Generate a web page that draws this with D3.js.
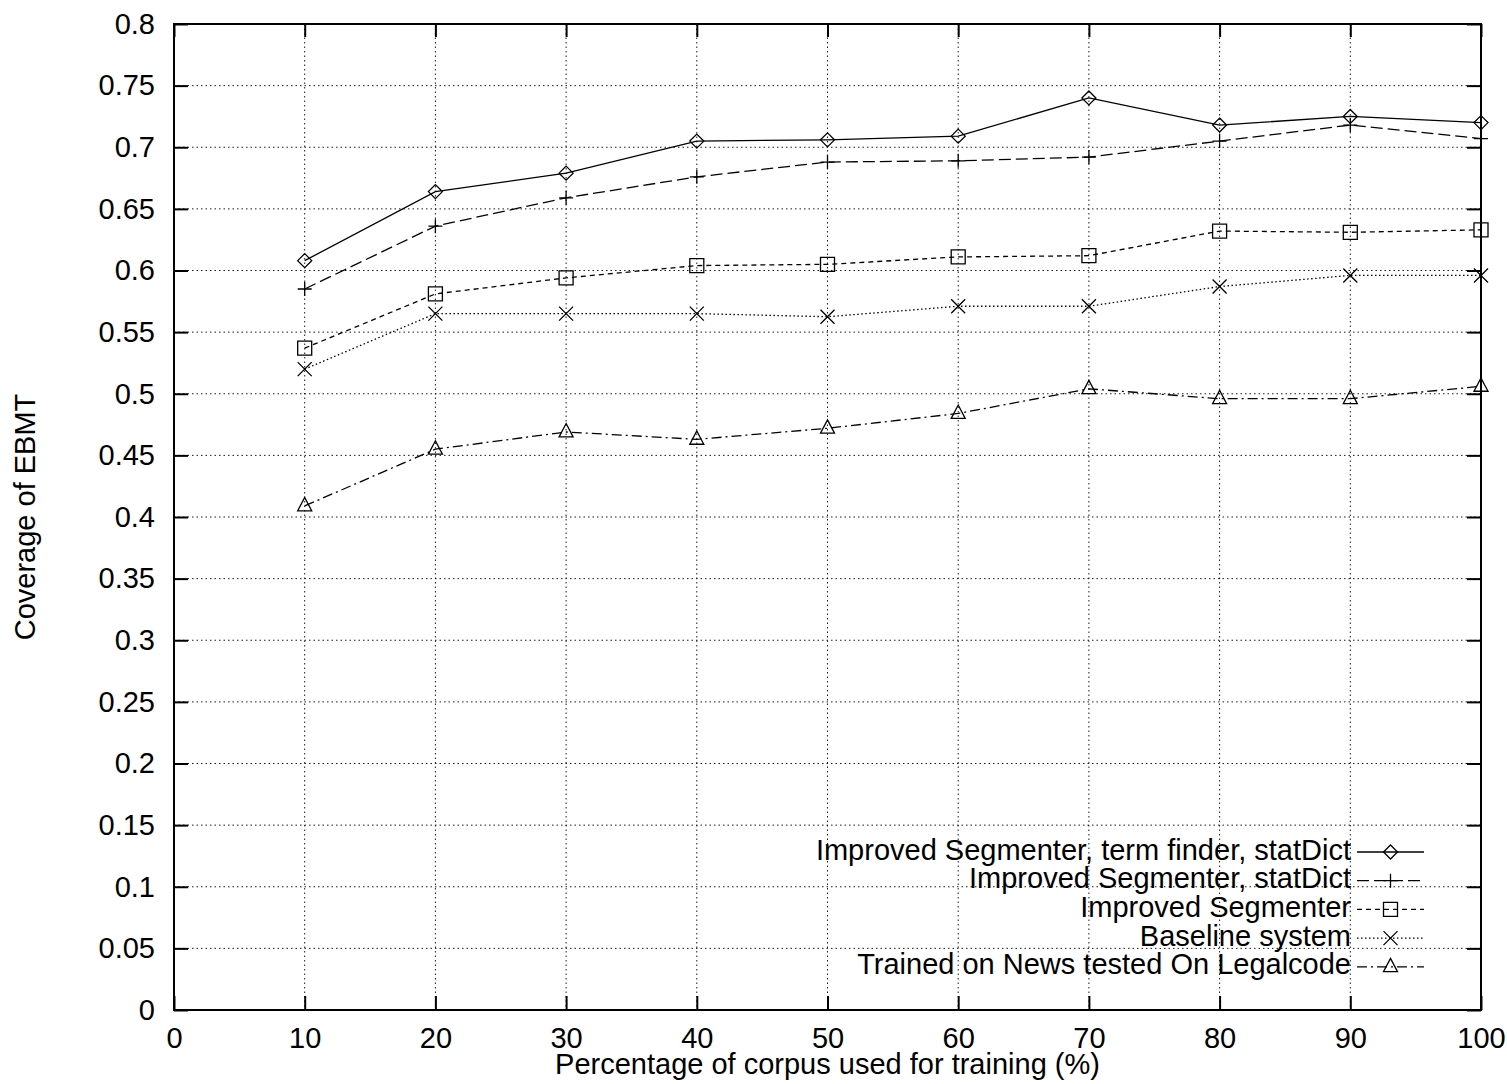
<!DOCTYPE html>
<html>
<head>
<meta charset="utf-8">
<script src="https://cdn.jsdelivr.net/npm/d3@7"></script>
<style>
  body { margin: 0; background: #fff; }
  svg text { font-family: "Liberation Sans", Arial, Helvetica, sans-serif; font-size: 29px; fill: #000; }
</style>
</head>
<body>
<div id="chart"></div>
<script>
// training corpus share (%)
var xValues = [10, 20, 30, 40, 50, 60, 70, 80, 90, 100];

var termFinder = [0.608, 0.664, 0.679, 0.705, 0.706, 0.709, 0.740, 0.718, 0.725, 0.720];
var statDict   = [0.585, 0.636, 0.659, 0.676, 0.688, 0.689, 0.692, 0.705, 0.718, 0.707];
var improved   = [0.537, 0.581, 0.594, 0.604, 0.605, 0.611, 0.612, 0.632, 0.631, 0.633];
var baseline   = [0.520, 0.565, 0.565, 0.565, 0.5625, 0.571, 0.571, 0.587, 0.596, 0.596];
var legalcode  = [0.409, 0.455, 0.469, 0.463, 0.472, 0.484, 0.504, 0.496, 0.496, 0.506];

var seriesNames = [
    "Improved Segmenter, term finder, statDict",
    "Improved Segmenter, statDict",
    "Improved Segmenter",
    "Baseline system",
    "Trained on News tested On Legalcode"
];

var xTicks = [0, 10, 20, 30, 40, 50, 60, 70, 80, 90, 100];
var yTicks = [0, 0.05, 0.1, 0.15, 0.2, 0.25, 0.3, 0.35, 0.4, 0.45, 0.5, 0.55, 0.6, 0.65, 0.7, 0.75, 0.8];

var xTitle = "Percentage of corpus used for training (%)";
var yTitle = "Coverage of EBMT";

var margin = {t:24, l:174, b:74, r:26},
    W = 1507, H = 1084,
    width = W - margin.l - margin.r,
    height = H - margin.t - margin.b;

var svg = d3.select("#chart").append("svg")
    .attr("width", W)
    .attr("height", H);

var x = d3.scaleLinear().domain([0, 100]).range([0, width]);
var y = d3.scaleLinear().domain([0, 0.8]).range([height, 0]);

var g = svg.append("g")
    .attr("transform", "translate(" + margin.l + "," + margin.t + ")");

// grid
var grid = g.append("g").attr("class", "grid")
    .attr("stroke", "#000").attr("stroke-width", 0.9).attr("stroke-dasharray", "1.5,3");
grid.selectAll(".gx").data(xTicks.slice(1, -1)).enter().append("line")
    .attr("x1", function(d){ return x(d); }).attr("x2", function(d){ return x(d); })
    .attr("y1", 0).attr("y2", height);
grid.selectAll(".gy").data(yTicks.slice(1, -1)).enter().append("line")
    .attr("y1", function(d){ return y(d); }).attr("y2", function(d){ return y(d); })
    .attr("x1", 0).attr("x2", width);

// axes with inward ticks, mirrored
function styleAxis(sel) {
    sel.select(".domain").remove();
    sel.selectAll(".tick line").attr("stroke", "#000").attr("stroke-width", 2);
    sel.selectAll("text").attr("fill", "#000").style("font-size", "29px");
}

g.append("g")
    .attr("transform", "translate(0," + height + ")")
    .call(d3.axisBottom(x).tickValues(xTicks).tickSize(-14).tickPadding(17))
    .call(styleAxis);
g.append("g")
    .call(d3.axisTop(x).tickValues(xTicks).tickSize(-13).tickFormat(""))
    .call(styleAxis);
g.append("g")
    .call(d3.axisLeft(y).tickValues(yTicks).tickSize(-14).tickPadding(19).tickFormat(d3.format("~g")))
    .call(styleAxis);
g.append("g")
    .attr("transform", "translate(" + width + ",0)")
    .call(d3.axisRight(y).tickValues(yTicks).tickSize(-14).tickFormat(""))
    .call(styleAxis);

g.append("rect")
    .attr("width", width).attr("height", height)
    .attr("fill", "none").attr("stroke", "#000").attr("stroke-width", 2);

// titles
svg.append("text")
    .attr("x", margin.l + width / 2).attr("y", 1074)
    .attr("text-anchor", "middle")
    .text(xTitle);
svg.append("text")
    .attr("transform", "translate(35," + (margin.t + height / 2) + ") rotate(-90)")
    .attr("text-anchor", "middle")
    .text(yTitle);

// marker shapes (open, gnuplot style)
var s = 7;
var markers = {
    diamond: function(cx, cy){ return "M"+cx+","+(cy-s)+"L"+(cx+s)+","+cy+"L"+cx+","+(cy+s)+"L"+(cx-s)+","+cy+"Z"; },
    plus: function(cx, cy){ return "M"+(cx-s)+","+cy+"H"+(cx+s)+"M"+cx+","+(cy-s)+"V"+(cy+s); },
    square: function(cx, cy){ return "M"+(cx-s)+","+(cy-s)+"H"+(cx+s)+"V"+(cy+s)+"H"+(cx-s)+"Z"; },
    cross: function(cx, cy){ return "M"+(cx-s)+","+(cy-s)+"L"+(cx+s)+","+(cy+s)+"M"+(cx+s)+","+(cy-s)+"L"+(cx-s)+","+(cy+s); },
    triangle: function(cx, cy){ return "M"+cx+","+(cy-s*1.2)+"L"+(cx+s)+","+(cy+s*0.7)+"L"+(cx-s)+","+(cy+s*0.7)+"Z"; }
};

var series = [
    {name: seriesNames[0], values: termFinder, marker: "diamond",  dash: null},
    {name: seriesNames[1], values: statDict,   marker: "plus",     dash: "12,5"},
    {name: seriesNames[2], values: improved,   marker: "square",   dash: "5,4"},
    {name: seriesNames[3], values: baseline,   marker: "cross",    dash: "1.5,2.5"},
    {name: seriesNames[4], values: legalcode,  marker: "triangle", dash: "10,4,2,4"}
];

var line = d3.line()
    .x(function(d){ return x(d[0]); })
    .y(function(d){ return y(d[1]); });

series.forEach(function(sr) {
    var pts = xValues.map(function(v, i){ return [v, sr.values[i]]; });
    g.append("path")
        .attr("d", line(pts))
        .attr("fill", "none")
        .attr("stroke", "#000")
        .attr("stroke-width", 1.3)
        .attr("stroke-dasharray", sr.dash);
    g.selectAll(null).data(pts).enter().append("path")
        .attr("d", function(d){ return markers[sr.marker](x(d[0]), y(d[1])); })
        .attr("fill", "none")
        .attr("stroke", "#000")
        .attr("stroke-width", 1.3);
});

// legend
var legend = svg.append("g").attr("transform", "translate(0,852)");
series.forEach(function(sr, i) {
    var ly = i * 28.7;
    legend.append("text")
        .attr("x", 1351).attr("y", ly + 7.5)
        .attr("text-anchor", "end")
        .text(sr.name);
    legend.append("line")
        .attr("x1", 1357).attr("x2", 1424)
        .attr("y1", ly).attr("y2", ly)
        .attr("stroke", "#000").attr("stroke-width", 1.3)
        .attr("stroke-dasharray", sr.dash);
    legend.append("path")
        .attr("d", markers[sr.marker](1390.5, ly))
        .attr("fill", "none").attr("stroke", "#000").attr("stroke-width", 1.3);
});
</script>
</body>
</html>
